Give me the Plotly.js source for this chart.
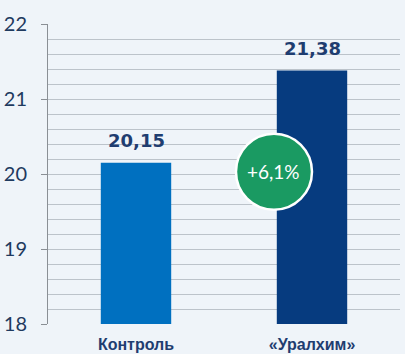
<!DOCTYPE html>
<html><head><meta charset="utf-8">
<script src="https://cdn.plot.ly/plotly-3.0.1.min.js"></script>
<style>html,body{margin:0;padding:0;background:#eff4f9;}#c{width:405px;height:354px;}</style>
</head><body><div id="c"></div>
<script>
const categories = ["Контроль", "«Уралхим»"];
const values = [20.15, 21.38];
const barColors = ["#0070c0", "#063b7f"];
const tickVals = [18, 19, 20, 21, 22];

const growth = (values[1] / values[0] - 1) * 100;
const growthText = "+" + growth.toFixed(1).replace(".", ",") + "%";
const fmt = v => v.toFixed(2).replace(".", ",");

const trace = {
  type: "bar", x: categories, y: values,
  marker: {color: barColors, line: {width: 0}},
  width: 0.4, hoverinfo: "none"
};

const annotations = categories.map((c, i) => ({
  x: c, y: values[i], xref: "x", yref: "y", yanchor: "bottom",
  yshift: 10, showarrow: false, text: "<b>" + fmt(values[i]) + "</b>",
  font: {family: "DejaVu Sans", size: 18, color: "#1f3d70"}
}));
annotations.push({
  x: 0.784, y: 20.03, xref: "x", yref: "y", showarrow: false,
  text: growthText, font: {family: "Lato, Open Sans", size: 19, color: "#ffffff"}
});

const layout = {
  width: 405, height: 354,
  margin: {l: 48, r: 5, t: 24, b: 30},
  paper_bgcolor: "#eff4f9", plot_bgcolor: "#eff4f9",
  showlegend: false, bargap: 0.6,
  xaxis: {
    type: "category", range: [-0.5, 1.5], showgrid: false, zeroline: false,
    showline: false, ticks: "", ticklabelstandoff: 9,
    tickfont: {family: "Liberation Sans", size: 16, color: "#1f3d70", weight: "bold"}
  },
  yaxis: {
    range: [18, 22], tickvals: tickVals, ticktext: tickVals.map(String),
    showgrid: true, gridcolor: "#bcc3ca", gridwidth: 1, zeroline: false,
    showline: true, linecolor: "#8a8f95", linewidth: 1,
    ticks: "outside", ticklen: 6, tickcolor: "#8a8f95",
    ticklabelstandoff: 10,
    tickfont: {family: "Lato, Open Sans", size: 20, color: "#1f3a5f"},
    minor: {dtick: 0.2, tick0: 18, showgrid: true, gridcolor: "#bcc3ca", gridwidth: 1, ticks: ""}
  },
  shapes: [{
    type: "circle", xref: "x", yref: "y", xsizemode: "pixel", ysizemode: "pixel",
    xanchor: 0.784, yanchor: 20.03, x0: -38, x1: 38, y0: -38, y1: 38,
    fillcolor: "#1a9a62", line: {color: "#ffffff", width: 2.5}, layer: "above"
  }],
  annotations: annotations
};

Plotly.newPlot("c", [trace], layout, {displayModeBar: false, staticPlot: true});
</script></body></html>
